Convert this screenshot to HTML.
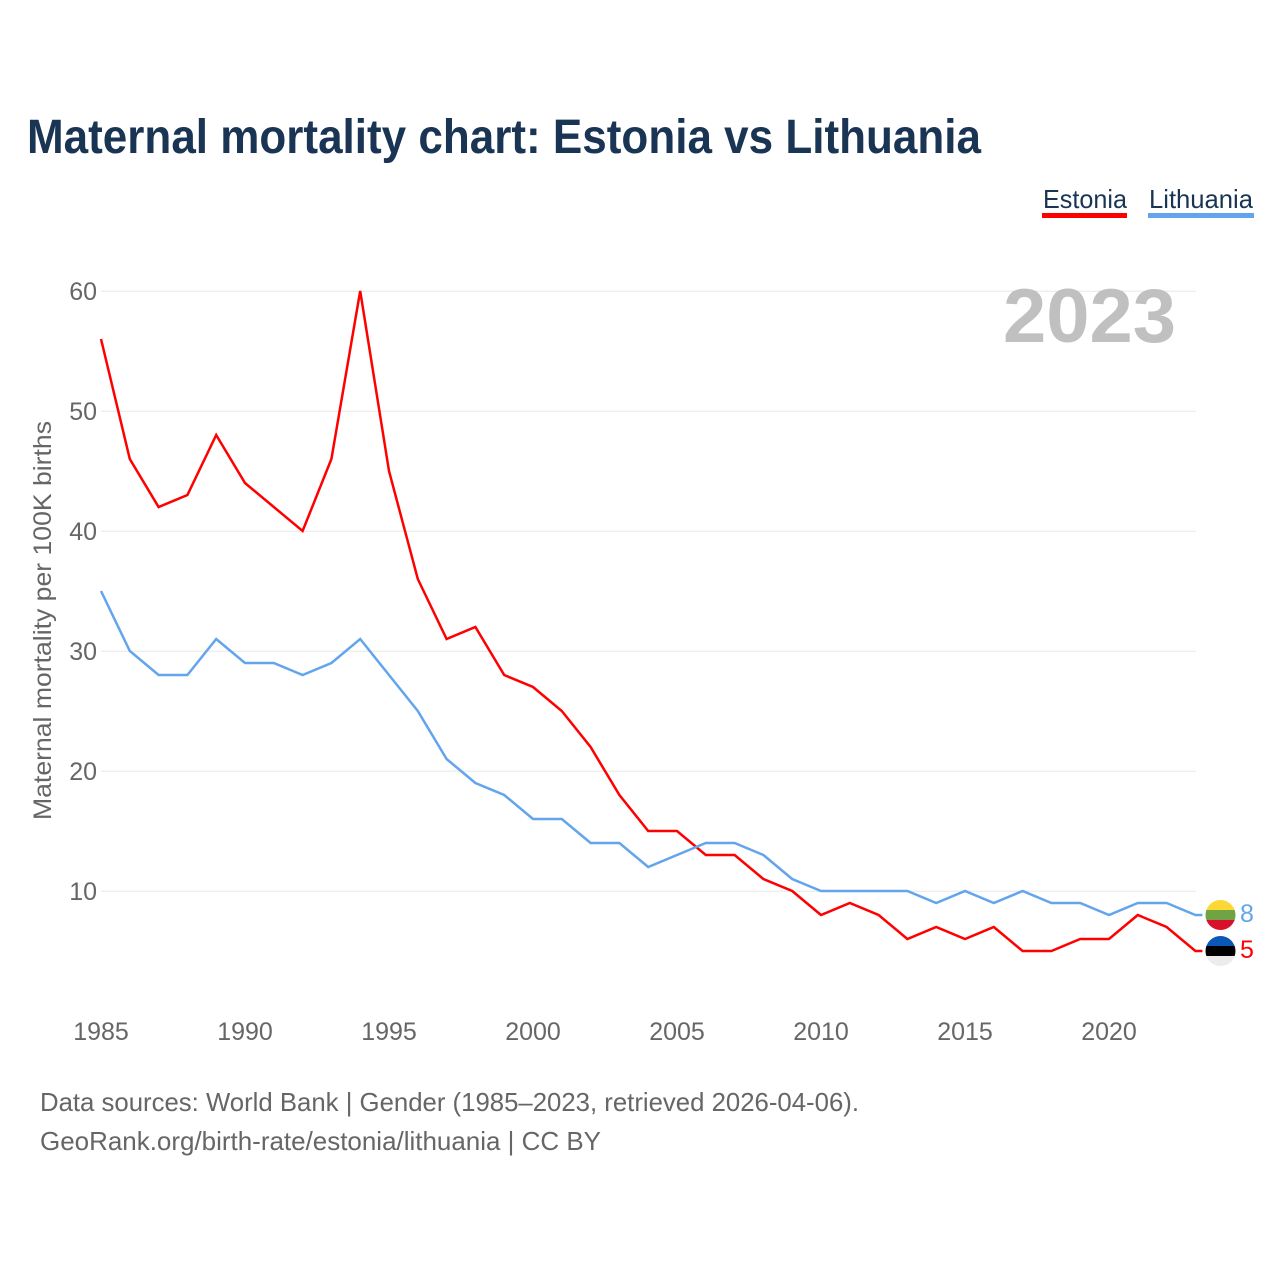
<!DOCTYPE html>
<html lang="en">
<head>
<meta charset="utf-8">
<title>Maternal mortality chart: Estonia vs Lithuania</title>
<style>
html,body{margin:0;padding:0;background:#fff;}
svg{display:block;font-family:"Liberation Sans",sans-serif;}
</style>
</head>
<body>
<svg id="chart" xmlns="http://www.w3.org/2000/svg" width="1280" height="1280" viewBox="0 0 1280 1280">
  <defs>
    <clipPath id="flag-clip-lt"><circle id="clip-lt" r="15"></circle></clipPath>
    <clipPath id="flag-clip-ee"><circle id="clip-ee" r="15"></circle></clipPath>
  </defs>
  <rect width="1280" height="1280" fill="#ffffff"></rect>
  <text x="27" y="153" font-size="48" font-weight="700" fill="#1a3454" textLength="954" lengthAdjust="spacingAndGlyphs">Maternal mortality chart: Estonia vs Lithuania</text>
  <g>
    <g>
      <text x="1043" y="208" font-size="26" fill="#1a3454" textLength="84" lengthAdjust="spacingAndGlyphs">Estonia</text>
      <rect x="1042" y="213" width="85" height="5" fill="#ff0000"></rect>
    </g>
    <g>
      <text x="1149" y="208" font-size="26" fill="#1a3454" textLength="104" lengthAdjust="spacingAndGlyphs">Lithuania</text>
      <rect x="1148" y="213" width="106" height="5" fill="#63a5ec"></rect>
    </g>
  </g>
  <g id="grid"></g>
  <g id="y-ticks"></g>
  <g id="x-ticks"></g>
  <text x="1003" y="342" font-size="76" font-weight="700" fill="#c0c0c0" textLength="173" lengthAdjust="spacingAndGlyphs">2023</text>
  <text transform="translate(51 620.5) rotate(-90)" text-anchor="middle" font-size="25" fill="#666666" textLength="399" lengthAdjust="spacingAndGlyphs">Maternal mortality per 100K births</text>
  <path id="line-estonia" fill="none" stroke="#ff0000" stroke-width="2.5" stroke-linejoin="miter"></path>
  <path id="line-lithuania" fill="none" stroke="#63a5ec" stroke-width="2.5" stroke-linejoin="miter"></path>
  <g id="flag-lt" clip-path="url(#flag-clip-lt)"></g>
  <g id="flag-ee" clip-path="url(#flag-clip-ee)"></g>
  <text id="end-lt" x="1240" font-size="25" fill="#63a5ec"></text>
  <text id="end-ee" x="1240" font-size="25" fill="#ff0000"></text>
  <text x="40" y="1111" font-size="26" fill="#666666" textLength="819" lengthAdjust="spacingAndGlyphs">Data sources: World Bank | Gender (1985–2023, retrieved 2026-04-06).</text>
  <text x="40" y="1150" font-size="26" fill="#666666" textLength="561" lengthAdjust="spacingAndGlyphs">GeoRank.org/birth-rate/estonia/lithuania | CC BY</text>
</svg>
<script>
const years = [1985,1986,1987,1988,1989,1990,1991,1992,1993,1994,1995,1996,1997,1998,1999,2000,2001,2002,2003,2004,2005,2006,2007,2008,2009,2010,2011,2012,2013,2014,2015,2016,2017,2018,2019,2020,2021,2022,2023];
const estoniaValues = [56,46,42,43,48,44,42,40,46,60,45,36,31,32,28,27,25,22,18,15,15,13,13,11,10,8,9,8,6,7,6,7,5,5,6,6,8,7,5];
const lithuaniaValues = [35,30,28,28,31,29,29,28,29,31,28,25,21,19,18,16,16,14,14,12,13,14,14,13,11,10,10,10,10,9,10,9,10,9,9,8,9,9,8];
const yTickValues = [10,20,30,40,50,60];
const xTickValues = [1985,1990,1995,2000,2005,2010,2015,2020];

const SVG_NS = 'http://www.w3.org/2000/svg';
function xScale(year){ return 101 + (year - 1985) * 28.8; }
function yScale(value){ return 891 - (value - 10) * 12; }
function make(tag, attrs, parent){
  const el = document.createElementNS(SVG_NS, tag);
  for (const k in attrs) el.setAttribute(k, attrs[k]);
  parent.appendChild(el);
  return el;
}
function linePath(values){
  const pts = values.map(function(v, i){ return xScale(years[i]).toFixed(1) + ' ' + yScale(v).toFixed(1); });
  const last = values.length - 1;
  return 'M' + pts.join('L') + 'L' + (xScale(years[last]) + 7).toFixed(1) + ' ' + yScale(values[last]).toFixed(1);
}

const grid = document.getElementById('grid');
const yTicks = document.getElementById('y-ticks');
yTickValues.forEach(function(v){
  const line = make('line', {x1: 101, x2: 1196, y1: yScale(v) + 0.25, y2: yScale(v) + 0.25, stroke: '#ebebeb', 'stroke-width': 1.2}, grid);
  
  
  const label = make('text', {x: 97, y: yScale(v) + 9, 'text-anchor': 'end', 'font-size': 25, fill: '#666666'}, yTicks);
  
  
  label.textContent = v;
});

const xTicks = document.getElementById('x-ticks');
xTickValues.forEach(function(y){
  const label = make('text', {x: xScale(y), y: 1040, 'text-anchor': 'middle', 'font-size': 25, fill: '#666666'}, xTicks);
  
  
  label.textContent = y;
});

document.getElementById('line-estonia').setAttribute('d', linePath(estoniaValues));
document.getElementById('line-lithuania').setAttribute('d', linePath(lithuaniaValues));

function drawFlag(groupId, clipId, endId, value, colors){
  const cy = yScale(value);
  const cx = 1220.5;
  const clip = document.getElementById(clipId);
  clip.setAttribute('cx', cx);
  clip.setAttribute('cy', cy);
  const g = document.getElementById(groupId);
  colors.forEach(function(c, i){
    const band = make('rect', {x: cx - 15, y: cy - 15 + i * 10, width: 30, height: 10.2, fill: c}, g);
    
    
  });
  const end = document.getElementById(endId);
  end.setAttribute('y', cy + 7);
  end.textContent = value;
}
drawFlag('flag-lt', 'clip-lt', 'end-lt', lithuaniaValues[lithuaniaValues.length - 1], ['#fdd835', '#6fa344', '#d9102c']);
drawFlag('flag-ee', 'clip-ee', 'end-ee', estoniaValues[estoniaValues.length - 1], ['#0a57b5', '#000000', '#ececec']);
</script>
</body>
</html>
